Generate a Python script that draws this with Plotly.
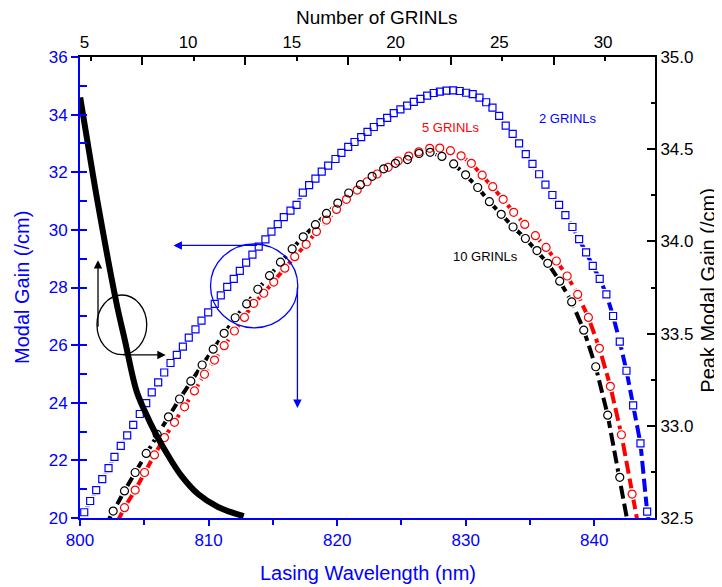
import plotly.graph_objects as go

# ---------------- data ----------------
# modal gain spectra, 2 GRINLs (blue squares)
wl_2 = [800.33, 800.79, 801.26, 801.73, 802.22, 802.68, 803.17, 803.67, 804.14, 804.65,
        805.15, 805.58, 806.08, 806.55, 807.04, 807.53, 808.00, 808.46, 808.98, 809.45,
        809.97, 810.48, 810.95, 811.45, 811.96, 812.43, 812.92, 813.41, 813.90, 814.42,
        814.89, 815.38, 815.85, 816.37, 816.84, 817.33, 817.82, 818.31, 818.80, 819.30,
        819.87, 820.33, 820.86, 821.35, 821.87, 822.36, 822.85, 823.37, 823.89, 824.40,
        824.92, 825.44, 825.96, 826.48, 827.00, 827.51, 827.99, 828.50, 829.02, 829.53,
        830.03, 830.54, 831.07, 831.59, 832.08, 832.60, 833.11, 833.65, 834.15, 834.67,
        835.19, 835.71, 836.20, 836.74, 837.26, 837.75, 838.30, 838.82, 839.36, 839.88,
        840.42, 840.94, 841.46, 841.98, 842.50, 843.02, 843.59, 844.11]
gain_2 = [20.20, 20.59, 20.97, 21.35, 21.73, 22.12, 22.50, 22.87, 23.23, 23.61,
          23.99, 24.36, 24.71, 25.05, 25.38, 25.66, 25.95, 26.26, 26.55, 26.85,
          27.14, 27.43, 27.73, 28.02, 28.30, 28.58, 28.86, 29.14, 29.42, 29.67,
          29.94, 30.20, 30.44, 30.67, 30.87, 31.29, 31.55, 31.78, 32.02, 32.23,
          32.46, 32.67, 32.88, 33.05, 33.22, 33.40, 33.57, 33.74, 33.89, 34.05,
          34.18, 34.31, 34.44, 34.55, 34.66, 34.75, 34.80, 34.83, 34.84, 34.82,
          34.76, 34.71, 34.59, 34.43, 34.24, 33.96, 33.62, 33.33, 33.00, 32.63,
          32.29, 31.93, 31.57, 31.21, 30.87, 30.51, 30.10, 29.68, 29.22, 28.75,
          28.30, 27.76, 27.01, 26.12, 25.11, 23.91, 22.59, 20.22]

# 5 GRINLs (red circles)
wl_5 = [803.46, 804.29, 805.02, 805.79, 806.57, 807.35, 808.13, 808.90, 809.68, 810.46,
        811.21, 812.01, 812.79, 813.51, 814.29, 815.07, 815.93, 816.70, 817.59, 818.39,
        819.17, 819.95, 820.72, 821.56, 822.33, 823.11, 823.97, 824.74, 825.57, 826.35,
        827.20, 827.98, 828.81, 829.64, 830.44, 831.28, 832.10, 832.91, 833.73, 834.59,
        835.42, 836.25, 837.05, 837.89, 838.71, 839.54, 840.40, 841.25, 842.11, 842.94]
gain_5 = [20.36, 20.97, 21.58, 22.19, 22.79, 23.32, 23.86, 24.41, 24.99, 25.48,
          25.98, 26.49, 26.96, 27.45, 27.80, 28.19, 28.67, 29.07, 29.50, 29.94,
          30.34, 30.71, 31.06, 31.38, 31.67, 31.94, 32.17, 32.39, 32.56, 32.71,
          32.83, 32.84, 32.75, 32.57, 32.31, 31.90, 31.50, 31.06, 30.61, 30.19,
          29.80, 29.39, 28.92, 28.40, 27.76, 26.96, 25.89, 24.57, 22.89, 20.83]

# 10 GRINLs (black circles)
wl_10 = [802.58, 803.46, 804.29, 805.15, 806.00, 806.88, 807.74, 808.62, 809.50, 810.36,
         811.21, 812.07, 812.96, 813.83, 814.74, 815.59, 816.50, 817.36, 818.31, 819.17,
         820.05, 820.90, 821.81, 822.72, 823.62, 824.53, 825.47, 826.37, 827.23, 828.15,
         829.06, 829.99, 830.93, 831.84, 832.76, 833.68, 834.64, 835.54, 836.38, 837.31,
         838.24, 839.18, 840.11, 841.04, 841.98]
gain_10 = [20.24, 20.94, 21.58, 22.24, 22.90, 23.51, 24.13, 24.75, 25.31, 25.86,
           26.41, 26.95, 27.43, 27.94, 28.41, 28.88, 29.34, 29.76, 30.18, 30.57,
           30.93, 31.28, 31.57, 31.86, 32.12, 32.31, 32.44, 32.65, 32.69, 32.55,
           32.29, 31.91, 31.47, 30.98, 30.54, 30.10, 29.70, 29.28, 28.84, 28.22,
           27.50, 26.52, 25.25, 23.57, 21.41]

# where the dashed curves run into the bottom axis
ends_wl_2, ends_gain_2 = [None, 844.23], [None, 19.95]
ends_wl_5, ends_gain_5 = [803.00, 843.33], [19.95, 19.95]
ends_wl_10, ends_gain_10 = [802.22, 842.55], [19.93, 19.95]

# peak modal gain vs number of GRINLs (top / right axes)
n_grinls = [4.80, 5.18, 5.66, 6.54, 6.96, 7.51, 7.91, 8.47, 9.03, 9.67, 10.48, 11.44, 12.68]
peak_gain = [34.78, 34.52, 34.20, 33.67, 33.46, 33.19, 33.08, 32.95, 32.84, 32.73, 32.63, 32.56, 32.51]

# top axis: labels and (offset) tick marks
top_labels = [5, 10, 15, 20, 25, 30]
top_major = [7.80, 12.75, 17.71, 22.67, 27.62]
top_minor = [5.32, 10.28, 15.23, 20.19, 25.14, 30.10]

BLUE = "#0000ff"
RED = "#ff0000"
FONT = "Liberation Sans, Arial, sans-serif"


def line_xy(wl, gain, ends_wl, ends_gain):
    xs, ys = list(wl), list(gain)
    if ends_wl[0] is not None:
        xs = [ends_wl[0]] + xs
        ys = [ends_gain[0]] + ys
    if ends_wl[1] is not None:
        xs = xs + [ends_wl[1]]
        ys = ys + [ends_gain[1]]
    return xs, ys


series = [
    (wl_2, gain_2, ends_wl_2, ends_gain_2, BLUE, "square", 7),
    (wl_5, gain_5, ends_wl_5, ends_gain_5, RED, "circle", 8),
    (wl_10, gain_10, ends_wl_10, ends_gain_10, "black", "circle", 8),
]

fig = go.Figure()

# dashed lines
for wl, g, ew, eg, col, sym, sz in series:
    xs, ys = line_xy(wl, g, ew, eg)
    fig.add_trace(go.Scatter(x=xs, y=ys, mode="lines",
                             line=dict(color=col, width=4, dash="13px,5px"),
                             hoverinfo="skip"))

# white masks so the line stops short of each symbol
for wl, g, ew, eg, col, sym, sz in series:
    fig.add_trace(go.Scatter(x=wl, y=g, mode="markers",
                             marker=dict(symbol=sym, size=sz + 4, color="white",
                                         line=dict(width=0)),
                             hoverinfo="skip"))

# open symbols
for wl, g, ew, eg, col, sym, sz in series:
    fig.add_trace(go.Scatter(x=wl, y=g, mode="markers",
                             marker=dict(symbol=sym + "-open", size=sz, color=col,
                                         line=dict(width=1.2, color=col))))

# peak gain curve
fig.add_trace(go.Scatter(x=n_grinls, y=peak_gain, xaxis="x2", yaxis="y2",
                         mode="lines", line=dict(color="black", width=6, shape="spline"),
                         hoverinfo="skip"))

# invisible trace to activate xaxis3 / yaxis3
fig.add_trace(go.Scatter(x=[10], y=[30], xaxis="x3", yaxis="y3", mode="markers",
                         marker=dict(opacity=0), hoverinfo="skip"))

# the page body adds 8px, so the margins are shifted to keep the frame in place
fig.update_layout(
    width=722, height=587,
    margin=dict(l=72, r=75, t=49, b=77, autoexpand=False),
    paper_bgcolor="white", plot_bgcolor="white",
    showlegend=False,
    font=dict(family=FONT, size=17, color="black"),
    xaxis=dict(range=[800, 844.72], tickvals=[800, 810, 820, 830, 840],
               ticks="outside", ticklen=6, tickwidth=1.5, tickcolor=BLUE,
               minor=dict(dtick=5, tick0=800, ticks="outside", ticklen=5, tickcolor=BLUE, tickwidth=1.5),
               showline=True, linecolor=BLUE, linewidth=2, showgrid=False, zeroline=False,
               tickfont=dict(color=BLUE, size=17), automargin=False),
    yaxis=dict(range=[20, 36], dtick=2, ticks="outside", ticklen=7, tickwidth=1.5,
               tickcolor=BLUE, showline=True, linecolor=BLUE, linewidth=2,
               showgrid=False, zeroline=False, tickfont=dict(color=BLUE, size=17),
               automargin=False),
    yaxis3=dict(range=[20, 36], overlaying="y", side="left", dtick=1, ticks="inside",
                ticklen=7, tickwidth=1.5, tickcolor=BLUE, showticklabels=False,
                showline=False, showgrid=False, zeroline=False, automargin=False),
    xaxis2=dict(range=[4.79, 32.5], overlaying="x", side="top", anchor="y",
                tickvals=top_labels, ticks="", showline=True, linecolor="black",
                linewidth=2, showgrid=False, zeroline=False,
                tickfont=dict(color="black", size=17), automargin=False),
    xaxis3=dict(range=[4.79, 32.5], overlaying="x", side="top", anchor="y",
                tickvals=top_major, ticks="inside", ticklen=8, tickwidth=1.5,
                tickcolor="black", showticklabels=False,
                minor=dict(tickvals=top_minor, ticks="inside", ticklen=4,
                           tickwidth=1.5, tickcolor="black"),
                showline=False, showgrid=False, zeroline=False, automargin=False),
    yaxis2=dict(range=[32.5, 35.0], overlaying="y", side="right", anchor="x",
                dtick=0.5, tickformat=".1f", ticks="inside", ticklen=8, tickwidth=1.5,
                tickcolor="black",
                minor=dict(dtick=0.25, ticks="inside", ticklen=4, tickwidth=1.5, tickcolor="black"),
                showline=True, linecolor="black", linewidth=2, showgrid=False,
                zeroline=False, tickfont=dict(color="black", size=17), automargin=False),
)

# axis titles
titles = [
    dict(text="Lasing Wavelength (nm)", x=0.5, y=-0.119, color=BLUE, angle=0, size=20),
    dict(text="Number of GRINLs", x=0.516, y=1.086, color="black", angle=0, size=19),
    dict(text="Modal Gain (/cm)", x=-0.101, y=0.501, color=BLUE, angle=-90, size=20),
    dict(text="Peak Modal Gain (/cm)", x=1.092, y=0.495, color="black", angle=-90, size=20),
]
for t in titles:
    fig.add_annotation(text=t["text"], xref="paper", yref="paper", x=t["x"], y=t["y"],
                       xanchor="center", yanchor="middle", showarrow=False, borderpad=0,
                       textangle=t["angle"], font=dict(size=t["size"], color=t["color"], family=FONT))

# series labels
fig.add_annotation(text="2 GRINLs", x=837.95, y=33.88, showarrow=False,
                   font=dict(size=13, color=BLUE, family=FONT))
fig.add_annotation(text="5 GRINLs", x=828.85, y=33.57, showarrow=False,
                   font=dict(size=13, color=RED, family=FONT))
fig.add_annotation(text="10 GRINLs", x=831.5, y=29.09, showarrow=False,
                   font=dict(size=13, color="black", family=FONT))

# circles marking which axes belong to which curves
fig.add_shape(type="circle", xref="x", yref="y", x0=801.32, x1=805.19, y0=25.67, y1=27.74,
              line=dict(color="black", width=1.3))
fig.add_shape(type="circle", xref="x", yref="y", x0=810.15, x1=816.94, y0=26.60, y1=29.51,
              line=dict(color=BLUE, width=1.3))

arrows = [
    (801.40, 28.95, 801.40, 26.59, "black"),
    (806.67, 25.66, 803.23, 25.66, "black"),
    (807.27, 29.46, 813.88, 29.46, BLUE),
    (816.91, 23.82, 816.91, 28.05, BLUE),
]
for x, y, ax, ay, col in arrows:
    fig.add_annotation(x=x, y=y, ax=ax, ay=ay, xref="x", yref="y", axref="x", ayref="y",
                       text="", showarrow=True, arrowhead=2, arrowsize=1.3,
                       arrowwidth=1.3, arrowcolor=col)

fig.write_html("out.html")
